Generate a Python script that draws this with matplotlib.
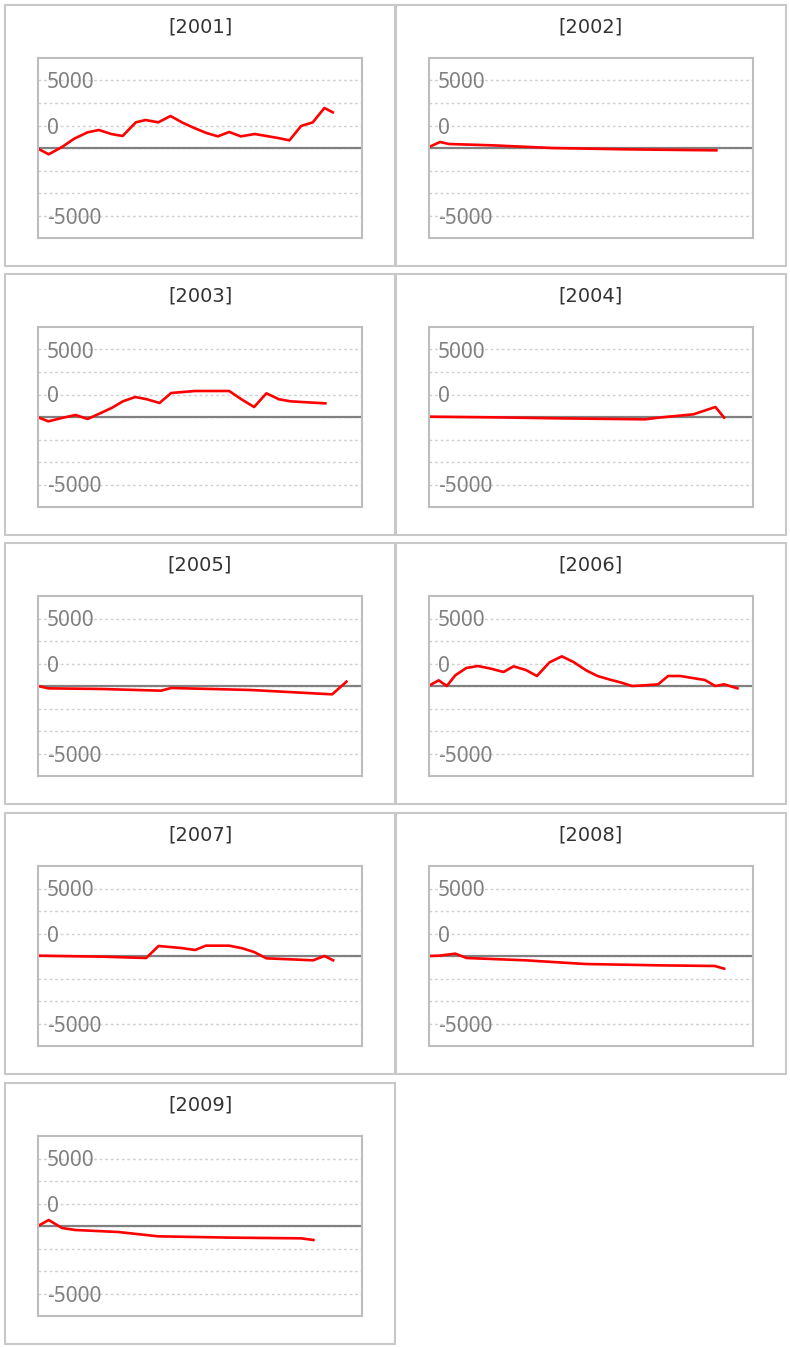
import matplotlib.pyplot as plt
from matplotlib.patches import Rectangle

# values (x as % of the axis width)
years = ['2001', '2002', '2003', '2004', '2005', '2006', '2007', '2008', '2009']

x_2001 = [0, 3.3, 7.4, 11.2, 15.3, 18.8, 22.6, 26.1, 30.2, 33.2, 37.1, 40.9, 44.6,
          48.2, 52.0, 55.5, 59.0, 62.6, 66.9, 70.5, 74.1, 77.6, 81.2, 84.8, 88.4, 91.0]
y_2001 = [-75, -700, 110, 1040, 1740, 2000, 1555, 1333, 2850, 3110, 2850, 3555, 2815,
          2222, 1666, 1296, 1777, 1296, 1555, 1333, 1111, 850, 2444, 2850, 4444, 3963]

x_2002 = [0, 3.4, 6.2, 19.6, 38.0, 60.6, 88.7]
y_2002 = [110, 667, 444, 296, 0, -148, -260]

x_2003 = [0, 3.2, 7.8, 11.6, 15.3, 19.6, 22.9, 26.2, 30.0, 33.7, 37.5, 41.1, 44.7,
          48.5, 52.4, 59.0, 62.8, 66.7, 70.5, 74.4, 78.0, 83.1, 88.7]
y_2003 = [-37, -480, -74, 222, -222, 480, 1037, 1740, 2222, 1963, 1555, 2667, 2778,
          2890, 2890, 2890, 1963, 1111, 2630, 1963, 1740, 1630, 1518]

x_2004 = [0, 19.6, 40.0, 66.7, 70.8, 81.6, 88.4, 91.1]
y_2004 = [37, -37, -148, -260, -74, 296, 1111, -74]

x_2005 = [0, 3.2, 19.6, 38.0, 41.1, 65.7, 90.8, 95.2]
y_2005 = [0, -260, -333, -518, -222, -444, -926, 480]

x_2006 = [0, 3.0, 5.5, 8.1, 11.5, 15.1, 19.1, 23.0, 26.1, 29.9, 33.3, 37.2, 41.0, 44.6,
          48.5, 52.0, 55.9, 59.4, 62.7, 66.6, 70.7, 73.8, 77.6, 81.3, 85.1, 88.4, 91.1, 95.2]
y_2006 = [37, 630, 0, 1185, 2000, 2222, 1926, 1555, 2185, 1778, 1111, 2630, 3296, 2667,
          1741, 1111, 704, 370, 0, 74, 185, 1111, 1111, 889, 667, 0, 185, -260]

x_2007 = [0, 19.6, 33.4, 37.2, 44.2, 48.5, 51.8, 59.0, 63.1, 66.7, 70.5, 78.0, 84.9, 88.4, 91.1]
y_2007 = [37, -74, -222, 1111, 889, 667, 1148, 1148, 852, 444, -260, -370, -481, 0, -481]

x_2008 = [0, 3.2, 8.1, 11.6, 29.8, 48.3, 70.8, 88.2, 91.1]
y_2008 = [0, 37, 259, -222, -481, -889, -1037, -1111, -1407]

x_2009 = [0, 3.3, 7.4, 11.5, 24.8, 37.1, 60.2, 81.2, 85.0]
y_2009 = [0, 667, -222, -444, -667, -1148, -1296, -1370, -1556]

xs = [x_2001, x_2002, x_2003, x_2004, x_2005, x_2006, x_2007, x_2008, x_2009]
ys = [y_2001, y_2002, y_2003, y_2004, y_2005, y_2006, y_2007, y_2008, y_2009]

grid_vals = [-7500, -5000, -2500, 0, 2500, 5000, 7500]
grid_labels = ['-5000', '', '', '', '0', '', '5000']

W, H = 790, 1347
fig = plt.figure(figsize=(W / 100, H / 100), dpi=100)

col_left = [5, 396]
row_top = [5, 274, 543, 813, 1083]
panel_w, panel_h = 390, 261

for i, year in enumerate(years):
    px = col_left[i % 2]
    py = row_top[i // 2]

    # panel frame
    fig.patches.append(Rectangle((px / W, 1 - (py + panel_h) / H), panel_w / W, panel_h / H,
                                 transform=fig.transFigure, fill=False,
                                 edgecolor='#c8c8c8', linewidth=1.5))
    fig.text((px + 195) / W, 1 - (py + 22) / H, '[' + year + ']',
             ha='center', va='center', fontsize=14, color='#333333')

    ax = fig.add_axes([(px + 33) / W, 1 - (py + 53 + 180) / H, 324 / W, 180 / H])
    ax.set_xlim(0, 100)
    ax.set_ylim(-10000, 10000)
    ax.set_xticks([])
    ax.set_yticks(grid_vals)
    ax.set_yticklabels(grid_labels)
    ax.tick_params(axis='y', length=0, pad=-6.5, labelsize=15, labelcolor='#808080')
    for lab in ax.get_yticklabels():
        lab.set_horizontalalignment('left')
        lab.set_fontfamily('Noto Sans')
    ax.grid(axis='y', color='#d0d0d0', linestyle=(0, (2, 2)), linewidth=1)
    ax.set_axisbelow(True)
    for s in ax.spines.values():
        s.set_color('#bdbdbd')
        s.set_linewidth(1.5)
    ax.axhline(0, color='#808080', linewidth=1.6)
    ax.plot(xs[i], ys[i], color='#ff0000', linewidth=1.9)

fig.savefig('out.png', dpi=100)
